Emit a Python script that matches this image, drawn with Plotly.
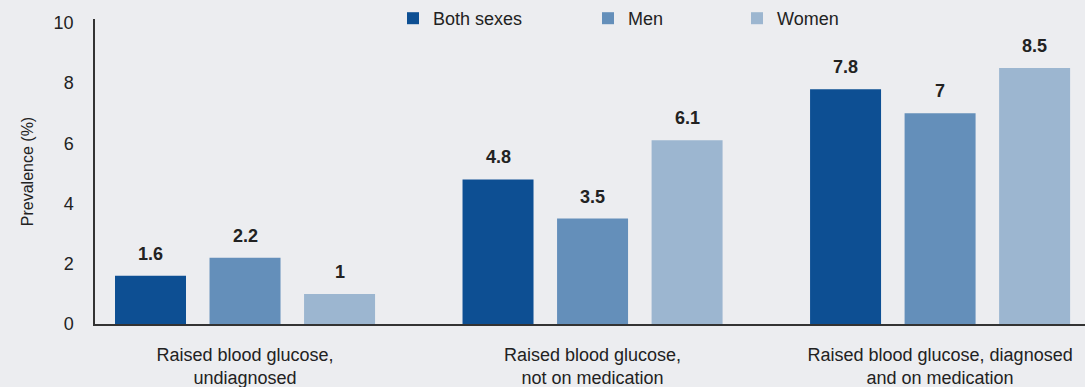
import plotly.graph_objects as go

# Prevalence of raised blood glucose (%), by sex
categories = [
    "Raised blood glucose,<br>undiagnosed",
    "Raised blood glucose,<br>not on medication",
    "Raised blood glucose, diagnosed<br>and on medication",
]
series_names = ["Both sexes", "Men", "Women"]
both_sexes = [1.6, 4.8, 7.8]
men = [2.2, 3.5, 7.0]
women = [1.0, 6.1, 8.5]
y_ticks = [0, 2, 4, 6, 8, 10]

series_values = [both_sexes, men, women]
colors = ["#0D4F93", "#648FBA", "#9CB6D0"]
legend_ids = ["legend", "legend2", "legend3"]
legend_left_px = [393, 588, 737]

FONT = "Liberation Sans, Arial, sans-serif"
TEXT = "#222222"
BG = "#ECEDF0"
BARGAP = 0.184
BARGROUPGAP = 0.249
PLOT_LEFT, PLOT_WIDTH = 95, 990

fig = go.Figure()
for name, vals, col, lg in zip(series_names, series_values, colors, legend_ids):
    fig.add_trace(go.Bar(
        x=categories, y=vals, name=name,
        marker=dict(color=col, line=dict(width=0)),
        legend=lg, hoverinfo="skip",
    ))

# value labels above each bar, placed via the group geometry
n = len(series_values)
slot = (1 - BARGAP) / n
annotations = []
for si, vals in enumerate(series_values):
    for ci, v in enumerate(vals):
        annotations.append(dict(
            x=ci + (si - (n - 1) / 2) * slot, y=v, xref="x", yref="y",
            text=f"<b>{v:g}</b>", showarrow=False, yanchor="middle", yshift=22,
            font=dict(family=FONT, size=18, color=TEXT),
        ))

legend_common = dict(
    orientation="h", yanchor="middle", y=1.0, xanchor="left",
    bgcolor="rgba(0,0,0,0)", borderwidth=0,
    font=dict(family=FONT, size=18, color=TEXT),
)
legends = {
    lg: dict(legend_common, x=(px - PLOT_LEFT) / PLOT_WIDTH)
    for lg, px in zip(legend_ids, legend_left_px)
}

fig.update_layout(
    width=1085, height=387,
    margin=dict(l=PLOT_LEFT, r=0, t=18, b=63),
    paper_bgcolor=BG, plot_bgcolor=BG,
    barmode="group", bargap=BARGAP, bargroupgap=BARGROUPGAP,
    font=dict(family=FONT, size=18, color=TEXT),
    showlegend=True,
    annotations=annotations,
    xaxis=dict(
        type="category", range=[-0.4317, 2.417],
        showline=True, linecolor="#333333", linewidth=2,
        showgrid=False, ticks="", ticklabelstandoff=13,
        tickfont=dict(family=FONT, size=18, color=TEXT),
        fixedrange=True,
    ),
    yaxis=dict(
        range=[0, 10.13], tickvals=y_ticks,
        showline=True, linecolor="#333333", linewidth=1.5,
        showgrid=False, zeroline=False, ticks="", ticklabelstandoff=16,
        tickfont=dict(family=FONT, size=18, color=TEXT),
        title=dict(text="Prevalence (%)", standoff=16,
                   font=dict(family=FONT, size=16, color=TEXT)),
        fixedrange=True,
    ),
    **legends,
)

fig.write_html("out.html", config={"displayModeBar": False})
